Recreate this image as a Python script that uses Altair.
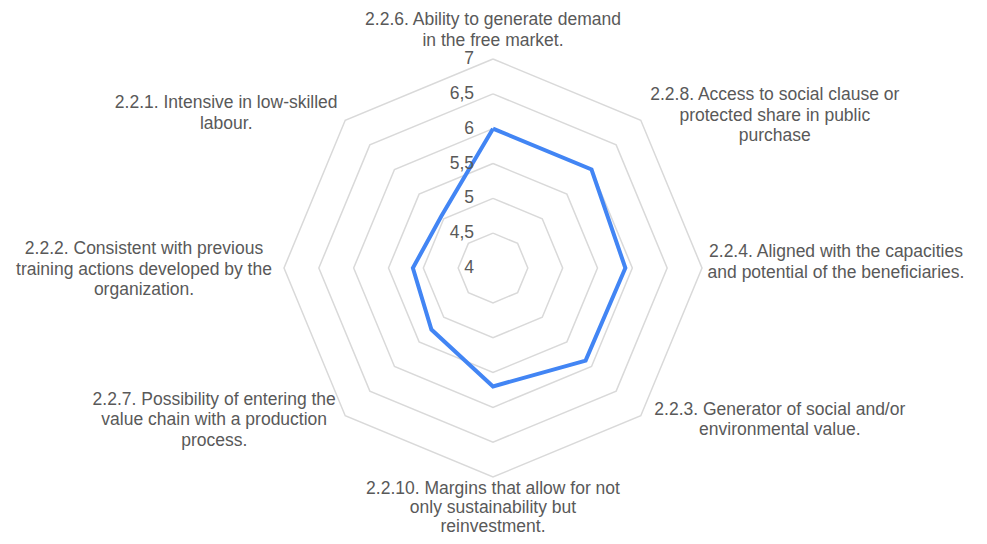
import altair as alt
import pandas as pd

# ---------------- data ----------------
categories = [
    "2.2.6. Ability to generate demand\nin the free market.",
    "2.2.8. Access to social clause or\nprotected share in public\npurchase",
    "2.2.4. Aligned with the capacities\nand potential of the beneficiaries.",
    "2.2.3. Generator of social and/or\nenvironmental value.",
    "2.2.10. Margins that allow for not\nonly sustainability but\nreinvestment.",
    "2.2.7. Possibility of entering the\nvalue chain with a production\nprocess.",
    "2.2.2. Consistent with previous\ntraining actions developed by the\norganization.",
    "2.2.1. Intensive in low-skilled\nlabour.",
]
values = [6.0, 6.0, 5.9, 5.88, 5.7, 5.25, 5.15, 5.05]
grid_levels = [4.5, 5.0, 5.5, 6.0, 6.5, 7.0]
tick_values = [4.0, 4.5, 5.0, 5.5, 6.0, 6.5, 7.0]
tick_labels = ["4", "4,5", "5", "5,5", "6", "6,5", "7"]
r_min, r_max = 4.0, 7.0

n = len(categories)

# ---------------- tables ----------------
series_df = pd.DataFrame({
    "idx": list(range(n + 1)),
    "value": [values[i % n] for i in range(n + 1)],
})
grid_df = pd.DataFrame([
    {"level": lv, "idx": i} for lv in grid_levels for i in range(n + 1)
])
ticks_df = pd.DataFrame({"value": tick_values, "label": tick_labels})
cat_df = pd.DataFrame({"idx": list(range(n)), "label": categories})

# ---------------- layout / style ----------------
W, H = 971, 528
CX, CY = 485, 260          # centre of the radar in plot pixels
R = 209                    # pixel radius of the outer ring
unit = R / (r_max - r_min)
x_scale = alt.Scale(domain=[-CX / unit, (W - CX) / unit], nice=False, zero=False)
y_scale = alt.Scale(domain=[-(H - CY) / unit, CY / unit], nice=False, zero=False)

FONT = "Liberation Sans"
TXT = "#595959"
FS = 17.5
label_style = [  # (dx, dy, lineHeight) from outer vertex, per category
    (0, -34, 20.5), (134, -20, 20.5), (134, -11, 20.5), (139, -1, 20.5),
    (0, 17, 19.0), (-131, -11, 20.5), (-140, -14, 20.5), (-119, -12, 20.5),
]

ang = f"datum.idx * 2 * PI / {n}"

def xy(base, rfield):
    return base.transform_calculate(
        rr=f"{rfield} - {r_min}"
    ).transform_calculate(
        px=f"datum.rr * sin({ang})",
        py=f"datum.rr * cos({ang})",
    )

X = alt.X("px:Q", scale=x_scale, axis=None)
Y = alt.Y("py:Q", scale=y_scale, axis=None)

grid = xy(alt.Chart(grid_df), "datum.level").mark_line(
    color="#d9d9d9", strokeWidth=1.5
).encode(x=X, y=Y, detail="level:N", order="idx:Q")

series = xy(alt.Chart(series_df), "datum.value").mark_line(
    color="#4285F4", strokeWidth=4, strokeJoin="miter"
).encode(x=X, y=Y, order="idx:Q")

ticks = alt.Chart(ticks_df).transform_calculate(
    px="0", py=f"datum.value - {r_min}"
).mark_text(
    align="right", baseline="middle", dx=-19, font=FONT, fontSize=FS, color=TXT
).encode(x=X, y=Y, text="label:N")

label_layers = []
for i, (dx, dy, lh) in enumerate(label_style):
    lay = xy(alt.Chart(cat_df).transform_filter(f"datum.idx == {i}"), f"{r_max}").mark_text(
        align="center", baseline="alphabetic", dx=dx, dy=dy, lineBreak="\n",
        lineHeight=lh, font=FONT, fontSize=FS, color=TXT
    ).encode(x=X, y=Y, text="label:N")
    label_layers.append(lay)

chart = alt.layer(grid, series, ticks, *label_layers).properties(
    width=W, height=H, autosize=alt.AutoSizeParams(type="none"), padding=0,
    background="white",
).configure_view(stroke=None, strokeWidth=0)

chart.save("out.html", embed_options={"renderer": "svg", "actions": False})
